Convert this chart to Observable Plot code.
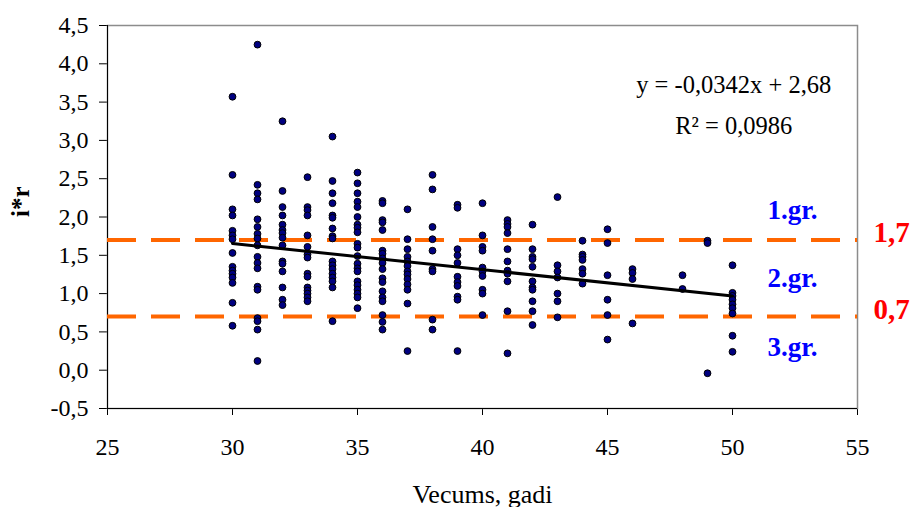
<!DOCTYPE html>
<html>
<head>
<meta charset="utf-8">
<script src="https://cdn.jsdelivr.net/npm/d3@7"></script>
<script src="https://cdn.jsdelivr.net/npm/@observablehq/plot@0.6"></script>
<style>
  html, body { margin: 0; padding: 0; background: #fff; }
  #chart { width: 914px; height: 507px; }
</style>
</head>
<body>
<div id="chart"></div>
<script>
// Ages (x) and the i*r values observed at each age (y)
const ages = [30, 31, 32, 33, 34, 35, 36, 37, 38, 39, 40, 41, 42, 43, 44, 45, 46, 48, 49, 50];
const values = [
  [3.57, 2.55, 2.10, 2.02, 1.82, 1.76, 1.71, 1.53, 1.35, 1.30, 1.26, 1.21, 1.14, 0.88, 0.58],
  [4.25, 2.42, 2.31, 2.23, 1.97, 1.87, 1.78, 1.72, 1.63, 1.48, 1.40, 1.33, 1.09, 1.05, 0.68, 0.64, 0.53, 0.12],
  [3.25, 2.34, 2.13, 2.02, 1.90, 1.83, 1.79, 1.73, 1.63, 1.42, 1.39, 1.29, 1.08, 0.92, 0.85],
  [2.52, 2.13, 2.09, 2.02, 1.76, 1.61, 1.51, 1.47, 1.26, 1.22, 1.08, 1.04, 1.00, 0.95, 0.90],
  [3.05, 2.47, 2.31, 2.18, 2.02, 1.99, 1.85, 1.75, 1.72, 1.42, 1.37, 1.32, 1.26, 1.21, 1.16, 1.08, 0.64],
  [2.58, 2.44, 2.31, 2.20, 2.13, 2.00, 1.90, 1.86, 1.80, 1.65, 1.60, 1.49, 1.39, 1.33, 1.29, 1.16, 1.11, 1.05, 1.00, 0.95, 0.81],
  [2.21, 2.18, 1.96, 1.93, 1.83, 1.56, 1.52, 1.46, 1.40, 1.32, 1.20, 1.15, 1.03, 0.95, 0.90, 0.72, 0.63, 0.53],
  [2.10, 1.71, 1.58, 1.48, 1.42, 1.36, 1.29, 1.25, 1.19, 1.12, 1.05, 0.87, 0.25],
  [2.55, 2.36, 1.87, 1.71, 1.56, 1.32, 1.29, 0.66, 0.53],
  [2.16, 2.12, 1.58, 1.50, 1.40, 1.22, 1.15, 1.10, 0.96, 0.92, 0.25],
  [2.18, 1.76, 1.61, 1.56, 1.34, 1.29, 1.23, 1.05, 1.00, 0.72],
  [1.96, 1.91, 1.87, 1.79, 1.58, 1.42, 1.30, 1.26, 1.16, 0.77, 0.22],
  [1.90, 1.58, 1.48, 1.45, 1.35, 1.16, 1.08, 1.05, 0.90, 0.77, 0.59],
  [2.26, 1.37, 1.29, 1.21, 1.00, 0.90, 0.69],
  [1.69, 1.51, 1.48, 1.44, 1.32, 1.26, 1.13],
  [1.84, 1.66, 1.24, 0.92, 0.72, 0.40],
  [1.32, 1.27, 1.19, 0.61],
  [1.24, 1.06],
  [1.69, 1.66, -0.04],
  [1.37, 1.01, 0.97, 0.92, 0.86, 0.81, 0.74, 0.45, 0.24]
];

// Linear trend (y = -0,0342x + 2,68) endpoints
const trendX = [30, 50];
const trendY = [1.654, 0.970];

// Group thresholds
const thresholds = [1.7, 0.7];
const thresholdLabels = ["1,7", "0,7"];

// Group labels
const groupLabels = ["1.gr.", "2.gr.", "3.gr."];
const groupY = [1.98, 1.08, 0.19];
const groupX = 52.4;

// Equation annotation
const eqLines = ["y = -0,0342x + 2,68", "R\u00B2 = 0,0986"];
const eqY = [3.62, 3.08];
const eqX = 50.05;

// Axes
const xTicks = [25, 30, 35, 40, 45, 50, 55];
const yTicks = [-0.5, 0, 0.5, 1, 1.5, 2, 2.5, 3, 3.5, 4, 4.5];
const xTitle = "Vecums, gadi";
const yTitle = "i*r";

const points = [];
ages.forEach((a, i) => values[i].forEach(v => points.push({x: a, y: v})));
const trend = trendX.map((x, i) => ({x, y: trendY[i]}));
const fmt = d => d.toFixed(1).replace(".", ",");

const serif = "'Liberation Serif', 'Times New Roman', serif";

const chart = Plot.plot({
  width: 914,
  height: 507,
  marginLeft: 107,
  marginRight: 57,
  marginTop: 25,
  marginBottom: 99,
  style: {fontFamily: serif, fontSize: "24px", color: "#000", background: "#fff", overflow: "visible"},
  x: {domain: [25, 55], ticks: xTicks, tickSize: 7, tickPadding: 22, label: null, tickFormat: d => String(d)},
  y: {domain: [-0.5, 4.5], ticks: yTicks, tickSize: 8, tickPadding: 11, label: null, tickFormat: fmt},
  marks: [
    Plot.frame({stroke: "#8c8c8c", strokeWidth: 1.5}),
    Plot.ruleX([25], {stroke: "#000", strokeWidth: 1}),
    Plot.ruleY([-0.5], {stroke: "#000", strokeWidth: 1}),
    Plot.ruleY(thresholds, {stroke: "#FF6600", strokeWidth: 4, strokeDasharray: "29,15"}),
    Plot.dot(points, {x: "x", y: "y", r: 3.4, fill: "#000080", stroke: "#000", strokeWidth: 1}),
    Plot.line(trend, {x: "x", y: "y", stroke: "#000", strokeWidth: 3}),
    Plot.text(thresholds, {x: 55, y: d => d, text: (d, i) => thresholdLabels[i], dx: 16, dy: 2,
      textAnchor: "start", lineAnchor: "bottom", fill: "#FF0000", fontWeight: "bold", fontSize: 29, clip: false}),
    Plot.text(groupLabels, {x: groupX, y: (d, i) => groupY[i], text: d => d, lineAnchor: "bottom",
      fill: "#0000FF", fontWeight: "bold", fontSize: 27}),
    Plot.text(eqLines, {x: eqX, y: (d, i) => eqY[i], text: d => d, lineAnchor: "bottom", fill: "#000", fontSize: 24.5}),
    Plot.text([xTitle], {frameAnchor: "bottom", dy: 94, lineAnchor: "bottom", text: d => d, fontSize: 26, fill: "#000"}),
    Plot.text([yTitle], {frameAnchor: "left", dx: -87, rotate: -90, text: d => d, fontSize: 25, fontWeight: "bold", fill: "#000"})
  ]
});
document.getElementById("chart").appendChild(chart);
</script>
</body>
</html>
